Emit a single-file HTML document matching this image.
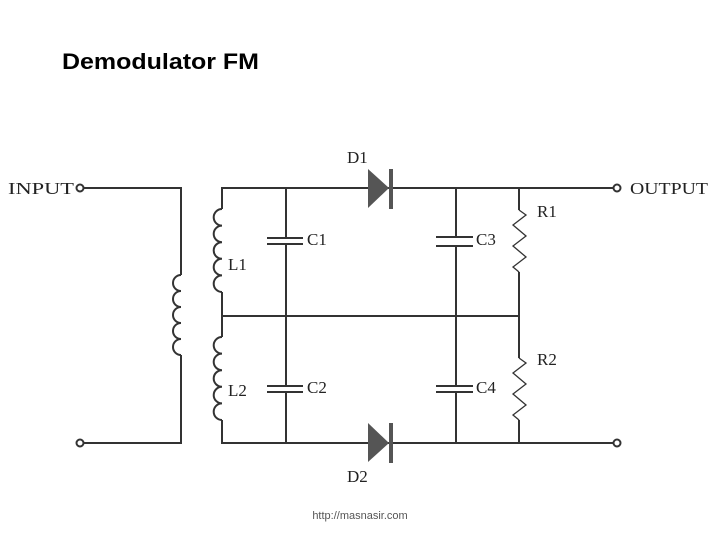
<!DOCTYPE html>
<html><head><meta charset="utf-8"><style>
html,body{margin:0;padding:0;background:#fff;}
svg{display:block;}
</style></head><body>
<svg width="720" height="540" viewBox="0 0 720 540" xmlns="http://www.w3.org/2000/svg">
<rect width="720" height="540" fill="#fff"/>
<text x="62" y="69" font-family="Liberation Sans, sans-serif" font-weight="bold" font-size="22" textLength="197" lengthAdjust="spacingAndGlyphs" fill="#000">Demodulator FM</text>
<g stroke="#333" stroke-width="2" fill="none">
<!-- primary -->
<circle cx="80" cy="188" r="3.5"/>
<circle cx="80" cy="443" r="3.5"/>
<path d="M84 188H181V275M181 355V443H84"/>
<path d="M181 275 a5 5 0 0 0 0 16 a5 5 0 0 0 0 16 a5 5 0 0 0 0 16 a5 5 0 0 0 0 16 a5 5 0 0 0 0 16" />
<!-- secondary -->
<path d="M222 209V188H391M222 292V337M222 420V443H391"/>
<path d="M222 209 a5 5 0 0 0 0 16.6 a5 5 0 0 0 0 16.6 a5 5 0 0 0 0 16.6 a5 5 0 0 0 0 16.6 a5 5 0 0 0 0 16.6"/>
<path d="M222 337 a5 5 0 0 0 0 16.6 a5 5 0 0 0 0 16.6 a5 5 0 0 0 0 16.6 a5 5 0 0 0 0 16.6 a5 5 0 0 0 0 16.6"/>
<path d="M222 316H519"/>
<!-- C1 C2 -->
<path d="M286 188V238M286 244V386M286 392V443"/>
<path d="M267 238H303M267 244H303M267 386H303M267 392H303"/>
<!-- right side -->
<path d="M391 188H613M391 443H613"/>
<circle cx="617" cy="188" r="3.5"/>
<circle cx="617" cy="443" r="3.5"/>
<path d="M456 188V237M456 246V386M456 392V443"/>
<path d="M436 237H473M436 246H473M436 386H473M436 392H473"/>
<path d="M519 188V210M519 272V358M519 420V443"/>
</g>
<g stroke="#333" stroke-width="1.3" fill="none">
<path d="M519 210 L526 215 L513 225 L526 236 L513 246 L526 257 L513 267 L519 272"/>
<path d="M519 358 L526 363 L513 373 L526 384 L513 394 L526 405 L513 415 L519 420"/>
</g>
<!-- diodes -->
<polygon points="368,169 389,188 368,208" fill="#555"/>
<rect x="389" y="169" width="4" height="40" fill="#555"/>
<polygon points="368,423 389,443 368,462" fill="#555"/>
<rect x="389" y="423" width="4" height="40" fill="#555"/>
<g font-family="Liberation Serif, serif" font-size="17" fill="#222">
<text x="8" y="194" textLength="66" lengthAdjust="spacingAndGlyphs">INPUT</text>
<text x="630" y="194" textLength="78" lengthAdjust="spacingAndGlyphs">OUTPUT</text>
<text x="347" y="163">D1</text>
<text x="347" y="482">D2</text>
<text x="307" y="245">C1</text>
<text x="307" y="393">C2</text>
<text x="228" y="270">L1</text>
<text x="228" y="396">L2</text>
<text x="476" y="245">C3</text>
<text x="476" y="393">C4</text>
<text x="537" y="217">R1</text>
<text x="537" y="365">R2</text>
</g>
<text x="360" y="519" text-anchor="middle" font-family="Liberation Sans, sans-serif" font-size="11" fill="#555">http://masnasir.com</text>
</svg>
</body></html>
